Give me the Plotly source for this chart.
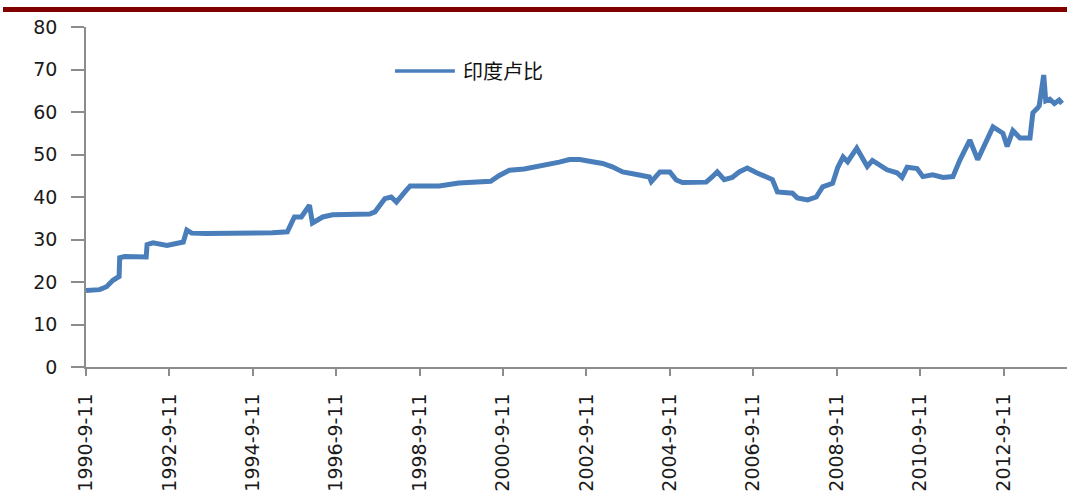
import plotly.graph_objects as go

# INR per USD, read at turning points of the daily series
dates = [
    "1990-09-11", "1991-01-08", "1991-03-10", "1991-05-05", "1991-06-28", "1991-07-03",
    "1991-08-15", "1991-12-01", "1992-02-20", "1992-02-28", "1992-04-20", "1992-08-20",
    "1992-12-10", "1993-01-10", "1993-02-10", "1993-03-25", "1993-08-01", "1994-05-20",
    "1995-03-01", "1995-07-10", "1995-09-10", "1995-11-10", "1996-01-20", "1996-02-15",
    "1996-05-15", "1996-08-10", "1997-01-05", "1997-06-30", "1997-08-15", "1997-11-10",
    "1998-01-05", "1998-02-20", "1998-05-05", "1998-06-20", "1998-09-11", "1999-03-01",
    "1999-08-20", "2000-05-25", "2000-08-05", "2000-11-05", "2001-03-15", "2001-06-15",
    "2001-09-10", "2002-01-15", "2002-04-15", "2002-07-15", "2002-11-01", "2003-01-30",
    "2003-04-25", "2003-07-25", "2003-11-25", "2004-03-15", "2004-04-01", "2004-06-15",
    "2004-09-10", "2004-11-05", "2004-12-30", "2005-03-25", "2005-07-25", "2005-09-15",
    "2005-10-30", "2005-12-30", "2006-03-10", "2006-05-10", "2006-07-20", "2006-10-10",
    "2007-01-05", "2007-02-25", "2007-04-10", "2007-06-30", "2007-08-20", "2007-10-01",
    "2007-12-30", "2008-03-15", "2008-05-10", "2008-08-05", "2008-09-20", "2008-11-05",
    "2008-12-15", "2009-03-05", "2009-04-25", "2009-06-05", "2009-07-20", "2009-09-25",
    "2009-11-25", "2010-02-20", "2010-04-05", "2010-05-20", "2010-08-15", "2010-10-05",
    "2010-12-30", "2011-03-30", "2011-06-25", "2011-08-25", "2011-11-20", "2012-01-28",
    "2012-04-20", "2012-06-10", "2012-09-05", "2012-10-12", "2012-12-01", "2013-02-01",
    "2013-04-30", "2013-05-25", "2013-07-08", "2013-07-20", "2013-08-28", "2013-09-05",
    "2013-09-15", "2013-10-20", "2013-11-30", "2014-01-10", "2014-02-05",
]
inr = [
    18.0, 18.2, 18.9, 20.4, 21.3, 25.7,
    26.0, 25.8, 25.9, 28.8, 29.2, 28.6,
    29.0, 29.4, 32.2, 31.5, 31.4, 31.4,
    31.6, 31.8, 35.3, 35.3, 38.1, 33.9,
    35.3, 35.8, 35.9, 36.0, 36.5, 39.6,
    40.0, 38.8, 41.2, 42.6, 42.6, 42.6,
    43.3, 43.7, 45.0, 46.3, 46.6, 47.0,
    47.5, 48.2, 48.8, 48.8, 48.3, 47.9,
    47.1, 45.9, 45.3, 44.7, 43.6, 45.9,
    45.9, 44.0, 43.4, 43.5, 43.5, 44.7,
    45.9, 44.1, 44.6, 45.9, 46.8, 45.7,
    44.5, 44.1, 41.2, 40.9, 40.9, 39.8,
    39.3, 40.0, 42.4, 43.2, 47.0, 49.4,
    48.3, 51.5, 49.4, 47.2, 48.6, 47.5,
    46.4, 45.7, 44.6, 47.0, 46.7, 44.8,
    45.2, 44.6, 44.8, 48.7, 53.4, 48.8,
    53.4, 56.5, 55.0, 51.9, 55.6, 53.9,
    53.9, 59.8, 61.0, 61.5, 68.7, 66.0,
    62.6, 63.0, 62.0, 62.8, 62.0,
]

tick_dates = ["1990-09-11", "1992-09-11", "1994-09-11", "1996-09-11", "1998-09-11",
              "2000-09-11", "2002-09-11", "2004-09-11", "2006-09-11", "2008-09-11",
              "2010-09-11", "2012-09-11"]
tick_text = ["1990-9-11", "1992-9-11", "1994-9-11", "1996-9-11", "1998-9-11",
             "2000-9-11", "2002-9-11", "2004-9-11", "2006-9-11", "2008-9-11",
             "2010-9-11", "2012-9-11"]
y_ticks = [0, 10, 20, 30, 40, 50, 60, 70, 80]

series_name = "印度卢比"
blue = "#4A7EBB"
axis_grey = "#8C8C8C"
tick_font = dict(family="DejaVu Sans", size=19, color="#1a1a1a")

fig = go.Figure()
fig.add_trace(go.Scatter(
    x=dates, y=inr, mode="lines", name=series_name,
    line=dict(color=blue, width=5), showlegend=False,
))

# legend drawn as a short line sample plus label
fig.add_shape(type="line", xref="paper", yref="paper",
              x0=0.315, x1=0.376, y0=0.8706, y1=0.8706,
              line=dict(color=blue, width=3.5))
fig.add_annotation(xref="paper", yref="paper", x=0.382, y=0.8706,
                   xanchor="left", yanchor="middle", showarrow=False,
                   text=series_name,
                   font=dict(family="Noto Sans CJK SC", size=20, color="#111111"))

# dark red rule across the top of the page
fig.add_shape(type="rect", xref="paper", yref="paper",
              x0=-0.0846, x1=1.0, y0=1 + (27 - 12) / 340, y1=1 + (27 - 7) / 340,
              fillcolor="#800000", line=dict(width=0), layer="above")

fig.update_layout(
    width=1067, height=494,
    margin=dict(l=86, r=0, t=27, b=127),
    paper_bgcolor="white", plot_bgcolor="white",
    xaxis=dict(
        type="date", range=["1990-09-11", "2014-03-20"], automargin=False,
        tickvals=tick_dates, ticktext=tick_text, tickangle=-90,
        ticks="outside", ticklen=7, tickwidth=1.5, tickcolor=axis_grey,
        showline=True, linecolor=axis_grey, linewidth=1.5,
        showgrid=False, zeroline=False, tickfont=tick_font,
        ticklabelstandoff=10,
    ),
    yaxis=dict(
        range=[0, 80], tickvals=y_ticks, automargin=False,
        ticks="outside", ticklen=13, tickwidth=1.5, tickcolor=axis_grey,
        showline=True, linecolor=axis_grey, linewidth=1.5,
        showgrid=False, zeroline=False, tickfont=tick_font,
        ticklabelstandoff=10,
    ),
)

fig.write_html("out.html")
